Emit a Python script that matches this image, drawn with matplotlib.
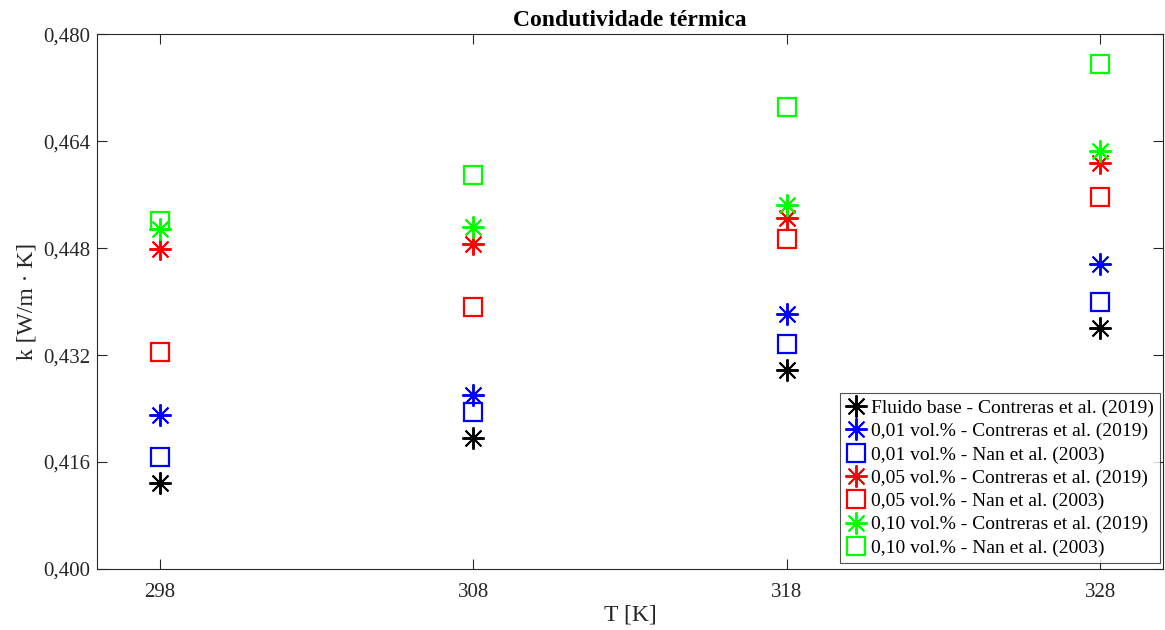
import matplotlib
matplotlib.use('Agg')
import matplotlib.pyplot as plt

plt.rcParams['font.family'] = ['Liberation Serif', 'DejaVu Serif']

# temperaturas [K]
T = [298, 308, 318, 328]

# condutividade térmica k [W/m.K]
k_base_contreras = [0.4128, 0.4196, 0.4297, 0.4361]
k_001_contreras = [0.4231, 0.4261, 0.4381, 0.4456]
k_001_nan = [0.4167, 0.4235, 0.4336, 0.4400]
k_005_contreras = [0.4478, 0.4486, 0.4525, 0.4607]
k_005_nan = [0.4324, 0.4392, 0.4494, 0.4557]
k_010_contreras = [0.4508, 0.4512, 0.4545, 0.4625]
k_010_nan = [0.4520, 0.4589, 0.4691, 0.4755]

yticks = [0.400, 0.416, 0.432, 0.448, 0.464, 0.480]
ytick_labels = ['0,400', '0,416', '0,432', '0,448', '0,464', '0,480']

series = [
    (k_base_contreras, 'ast', 'k', 'Fluido base - Contreras et al. (2019)'),
    (k_001_contreras, 'ast', 'b', '0,01 vol.% - Contreras et al. (2019)'),
    (k_001_nan, 'sq', 'b', '0,01 vol.% - Nan et al. (2003)'),
    (k_005_contreras, 'ast', 'r', '0,05 vol.% - Contreras et al. (2019)'),
    (k_005_nan, 'sq', 'r', '0,05 vol.% - Nan et al. (2003)'),
    (k_010_contreras, 'ast', '#00ff00', '0,10 vol.% - Contreras et al. (2019)'),
    (k_010_nan, 'sq', '#00ff00', '0,10 vol.% - Nan et al. (2003)'),
]

fig = plt.figure(figsize=(11.65, 6.3), dpi=100)
ax = fig.add_axes([0.0833, 0.0968, 0.915, 0.849])

for vals, kind, col, lab in series:
    if kind == 'ast':
        ax.plot(T, vals, ls='none', marker=(8, 2, 0), markersize=16,
                markeredgewidth=1.4, color=col, label=lab)
    else:
        ax.plot(T, vals, ls='none', marker='s', markersize=13,
                markeredgewidth=1.6, markerfacecolor='none',
                markeredgecolor=col, label=lab)

ax.set_xlim(296, 330)
ax.set_ylim(0.400, 0.480)
ax.set_xticks(T)
ax.set_xticklabels([str(t) for t in T])
ax.set_yticks(yticks)
ax.set_yticklabels(ytick_labels)

ax.tick_params(direction='in', length=7, width=0.8, top=True, right=True,
               labelsize=15, colors='#262626')
ax.tick_params(axis='x', pad=10)
ax.tick_params(axis='y', pad=5)
for s in ax.spines.values():
    s.set_color('#262626')
    s.set_linewidth(0.8)

ax.set_title('Condutividade térmica', fontsize=17, fontweight='bold', pad=6)
ax.set_xlabel('T [K]', fontsize=17, color='#262626', labelpad=2)
ax.set_ylabel('k [W/m · K]', fontsize=17, color='#262626', labelpad=4)

leg = ax.legend(loc='lower right', fontsize=14, frameon=True, fancybox=False,
                edgecolor='#262626', handlelength=1.0, handletextpad=0.3,
                labelspacing=0.29, borderpad=0.3, borderaxespad=0.0,
                bbox_to_anchor=(0.997, 0.012))
leg.get_frame().set_linewidth(0.8)

fig.savefig('out.png', dpi=100)
